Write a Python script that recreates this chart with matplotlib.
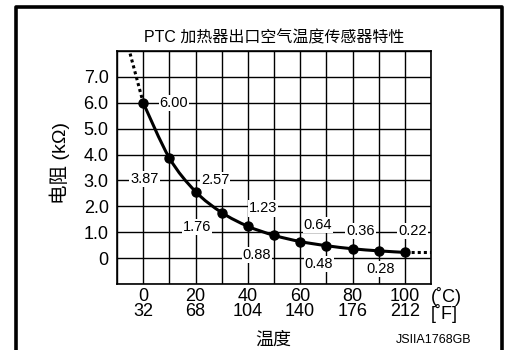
import matplotlib
matplotlib.use("Agg")
import matplotlib.pyplot as plt
from matplotlib.lines import Line2D
from matplotlib.path import Path
from matplotlib.patches import PathPatch

plt.rcParams['font.family'] = ['Liberation Sans', 'Noto Sans CJK SC', 'DejaVu Sans']

# data
temp_c = [0, 10, 20, 30, 40, 50, 60, 70, 80, 90, 100]
resist = [6.00, 3.87, 2.57, 1.76, 1.23, 0.88, 0.64, 0.48, 0.36, 0.28, 0.22]
xtick_c = [0, 20, 40, 60, 80, 100]
xtick_f = [32, 68, 104, 140, 176, 212]
ytick_vals = [0, 1, 2, 3, 4, 5, 6, 7]
ytick_labels = ["0", "1.0", "2.0", "3.0", "4.0", "5.0", "6.0", "7.0"]
# dotted extension ends
ext_left_x = [-5, 0]
ext_left_y = [7.9, 6.00]
ext_right_x = [100, 110]
ext_right_y = [0.22, 0.22]

# label placement (x, y, ha)
label_pos = [(6.3, 6.0, 'left'), (0.5, 3.05, 'center'), (27.5, 3.0, 'center'),
             (20.6, 1.2, 'center'), (45.8, 1.92, 'center'), (43.5, 0.12, 'center'),
             (66.8, 1.27, 'center'), (67.2, -0.23, 'center'), (83.2, 1.04, 'center'),
             (90.8, -0.42, 'center'), (103, 1.04, 'center')]

fig = plt.figure(figsize=(5.09, 3.5), dpi=100)
ax = fig.add_axes([0.2299, 0.1886, 0.6169, 0.6657])

ax.set_xlim(-10, 110)
ax.set_ylim(-1, 8)
ax.set_xticks(range(-10, 111, 10), minor=True)
ax.set_yticks(range(-1, 9), minor=True)
ax.set_axisbelow(True)
for s in ax.spines.values():
    s.set_linewidth(1.2)

ax.set_yticks(ytick_vals)
ax.set_yticklabels(ytick_labels, fontsize=13)
ax.set_xticks(xtick_c)
ax.set_xticklabels(["%d\n%d" % (c, f) for c, f in zip(xtick_c, xtick_f)], fontsize=13)
for lab in ax.get_xticklabels():
    lab.set_linespacing(0.85)
ax.grid(True, which='both', color='black', linewidth=1.0)
ax.tick_params(which='both', length=0)
ax.tick_params(axis='y', pad=6)
ax.tick_params(axis='x', pad=3)

# smooth curve through the points (Catmull-Rom as cubic Bezier)
verts = [(temp_c[0], resist[0])]
codes = [Path.MOVETO]
n = len(temp_c)
for i in range(n - 1):
    p0 = (temp_c[max(i - 1, 0)], resist[max(i - 1, 0)])
    p1 = (temp_c[i], resist[i])
    p2 = (temp_c[i + 1], resist[i + 1])
    p3 = (temp_c[min(i + 2, n - 1)], resist[min(i + 2, n - 1)])
    c1 = (p1[0] + (p2[0] - p0[0]) / 6, p1[1] + (p2[1] - p0[1]) / 6)
    c2 = (p2[0] - (p3[0] - p1[0]) / 6, p2[1] - (p3[1] - p1[1]) / 6)
    verts += [c1, c2, p2]
    codes += [Path.CURVE4] * 3
ax.add_patch(PathPatch(Path(verts, codes), facecolor='none', edgecolor='black',
                       linewidth=2.2, zorder=3))
ax.plot(temp_c, resist, color='black', linestyle='none', marker='o', markersize=6.5, zorder=3)
ax.plot(ext_left_x, ext_left_y, color='black', linewidth=2.2, linestyle=(0, (1, 1)), zorder=3)
ax.plot(ext_right_x, ext_right_y, color='black', linewidth=2.2, linestyle=(0, (1, 1)), zorder=3)

for (x, y, ha), v in zip(label_pos, resist):
    ax.text(x, y, "%.2f" % v, fontsize=10.5, ha=ha, va='center', zorder=4,
            bbox=dict(facecolor='white', edgecolor='none', pad=0.8))

# unit labels next to the tick rows
ax.text(1.0, -0.013, "(˚C)\n[˚F]", transform=ax.transAxes, fontsize=13, ha='left', va='top',
        linespacing=0.85)

ax.set_title("PTC 加热器出口空气温度传感器特性", fontsize=11.5, pad=6)
ax.set_ylabel("电阻 (kΩ)", fontsize=14)
ax.yaxis.set_label_coords(-0.15, 0.52)
fig.text(0.536, 0.028, "温度", fontsize=13, ha='center', va='center')
fig.text(0.927, 0.028, "JSIIA1768GB", fontsize=9, ha='right', va='center')

# outer frame (open at bottom)
fig.add_artist(Line2D([15.5/509, 15.5/509, 502/509, 502/509], [0, 1 - 6.5/350, 1 - 6.5/350, 0],
                      transform=fig.transFigure, color='black', linewidth=2.6))

fig.savefig("out.png", dpi=100)
